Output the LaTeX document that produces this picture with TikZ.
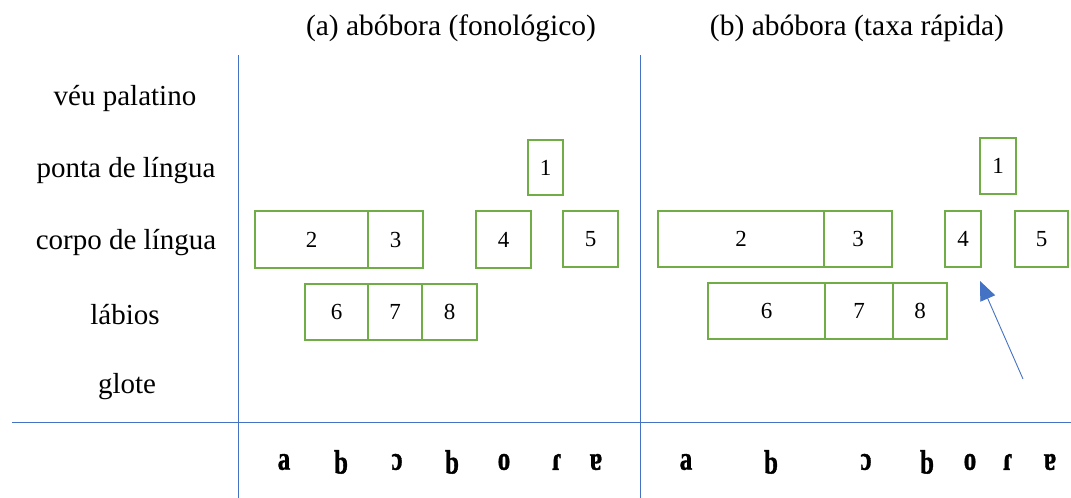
\documentclass[tikz,border=0pt]{standalone}
\usepackage{fontspec}
\setmainfont{Liberation Serif}
\newfontfamily\segfont{Liberation Serif}[BoldFeatures={FakeBold=1.2}]
\usepackage{graphicx}
\usepackage{tikz}
\usetikzlibrary{positioning,arrows.meta}
\definecolor{gridblue}{HTML}{4472C4}
\definecolor{boxgreen}{HTML}{70AD47}
\newcommand{\ipaseg}[1]{\scalebox{0.9}[1.2]{#1}}

\begin{document}
\begin{tikzpicture}[x=1pt,y=-1pt,
  box/.style={draw=boxgreen,line width=2.2pt,inner sep=0pt,font=\fontsize{23}{26}\selectfont},
  row/.style={font=\fontsize{29}{32}\selectfont},
  ttl/.style={font=\fontsize{29.5}{32}\selectfont},
  seg/.style={font=\fontsize{28}{32}\segfont\bfseries}]
\useasboundingbox (0,0) rectangle (1071,498);
% grid
\draw [gridblue,line width=0.9pt] (12,422) -- (1071,422);
\draw [gridblue,line width=0.9pt] (238,55) -- (238,498);
\draw [gridblue,line width=0.9pt] (640,55) -- (640,498);
% titles
\node [ttl] (ta) at (451,28) {(a) abóbora (fonológico)};
\node [ttl] (tb) at (857,28) {(b) abóbora (taxa rápida)};
% rows
\node [row] (vp) at (125,99) {véu palatino};
\node [row] (pl) at (126,171) {ponta de língua};
\node [row] (cl) at (126,243) {corpo de língua};
\node [row] (lb) at (125,315) {lábios};
\node [row] (gl) at (127,387) {glote};
% (a) boxes
\node [box,minimum width=35,minimum height=55] (l1) at (545.5,167.5) {1};
\node [box,minimum width=113,minimum height=57] (l2) at (311.5,239.5) {2};
\node [box,minimum width=55,minimum height=57] (l3) at (395.5,239.5) {3};
\node [box,minimum width=55,minimum height=57] (l4) at (503.5,239.5) {4};
\node [box,minimum width=55,minimum height=56] (l5) at (590.5,239) {5};
\node [box,minimum width=63,minimum height=56] (l6) at (336.5,312) {6};
\node [box,minimum width=54,minimum height=56] (l7) at (395,312) {7};
\node [box,minimum width=55,minimum height=56] (l8) at (449.5,312) {8};
% (b) boxes
\node [box,minimum width=36,minimum height=56] (r1) at (998,166) {1};
\node [box,minimum width=166,minimum height=56] (r2) at (741,239) {2};
\node [box,minimum width=68,minimum height=56] (r3) at (858,239) {3};
\node [box,minimum width=36,minimum height=56] (r4) at (963,239) {4};
\node [box,minimum width=53,minimum height=56] (r5) at (1041.5,239) {5};
\node [box,minimum width=117,minimum height=56] (r6) at (766.5,311) {6};
\node [box,minimum width=68,minimum height=56] (r7) at (859,311) {7};
\node [box,minimum width=54,minimum height=56] (r8) at (920,311) {8};
\coordinate (arr) at (1023,379);
\draw [-{Triangle[length=19pt,width=16pt]},gridblue,line width=0.9pt] (arr) -- ([shift={(-2,13)}]r4.south east);
% segments
\node [seg] (a1) at (284,462) {\ipaseg{a}};
\node [seg] (a2) at (341,462) {\ipaseg{b}};
\node [seg] (a3) at (397,462) {\ipaseg{ɔ}};
\node [seg] (a4) at (452,462) {\ipaseg{b}};
\node [seg] (a5) at (504,462) {\ipaseg{o}};
\node [seg] (a6) at (557,462) {\ipaseg{ɾ}};
\node [seg] (a7) at (596,462) {\ipaseg{ɐ}};
\node [seg] (b1) at (686,462) {\ipaseg{a}};
\node [seg] (b2) at (771,462) {\ipaseg{b}};
\node [seg] (b3) at (866,462) {\ipaseg{ɔ}};
\node [seg] (b4) at (927,462) {\ipaseg{b}};
\node [seg] (b5) at (970,462) {\ipaseg{o}};
\node [seg] (b6) at (1008,462) {\ipaseg{ɾ}};
\node [seg] (b7) at (1050,462) {\ipaseg{ɐ}};
\end{tikzpicture}
\end{document}
